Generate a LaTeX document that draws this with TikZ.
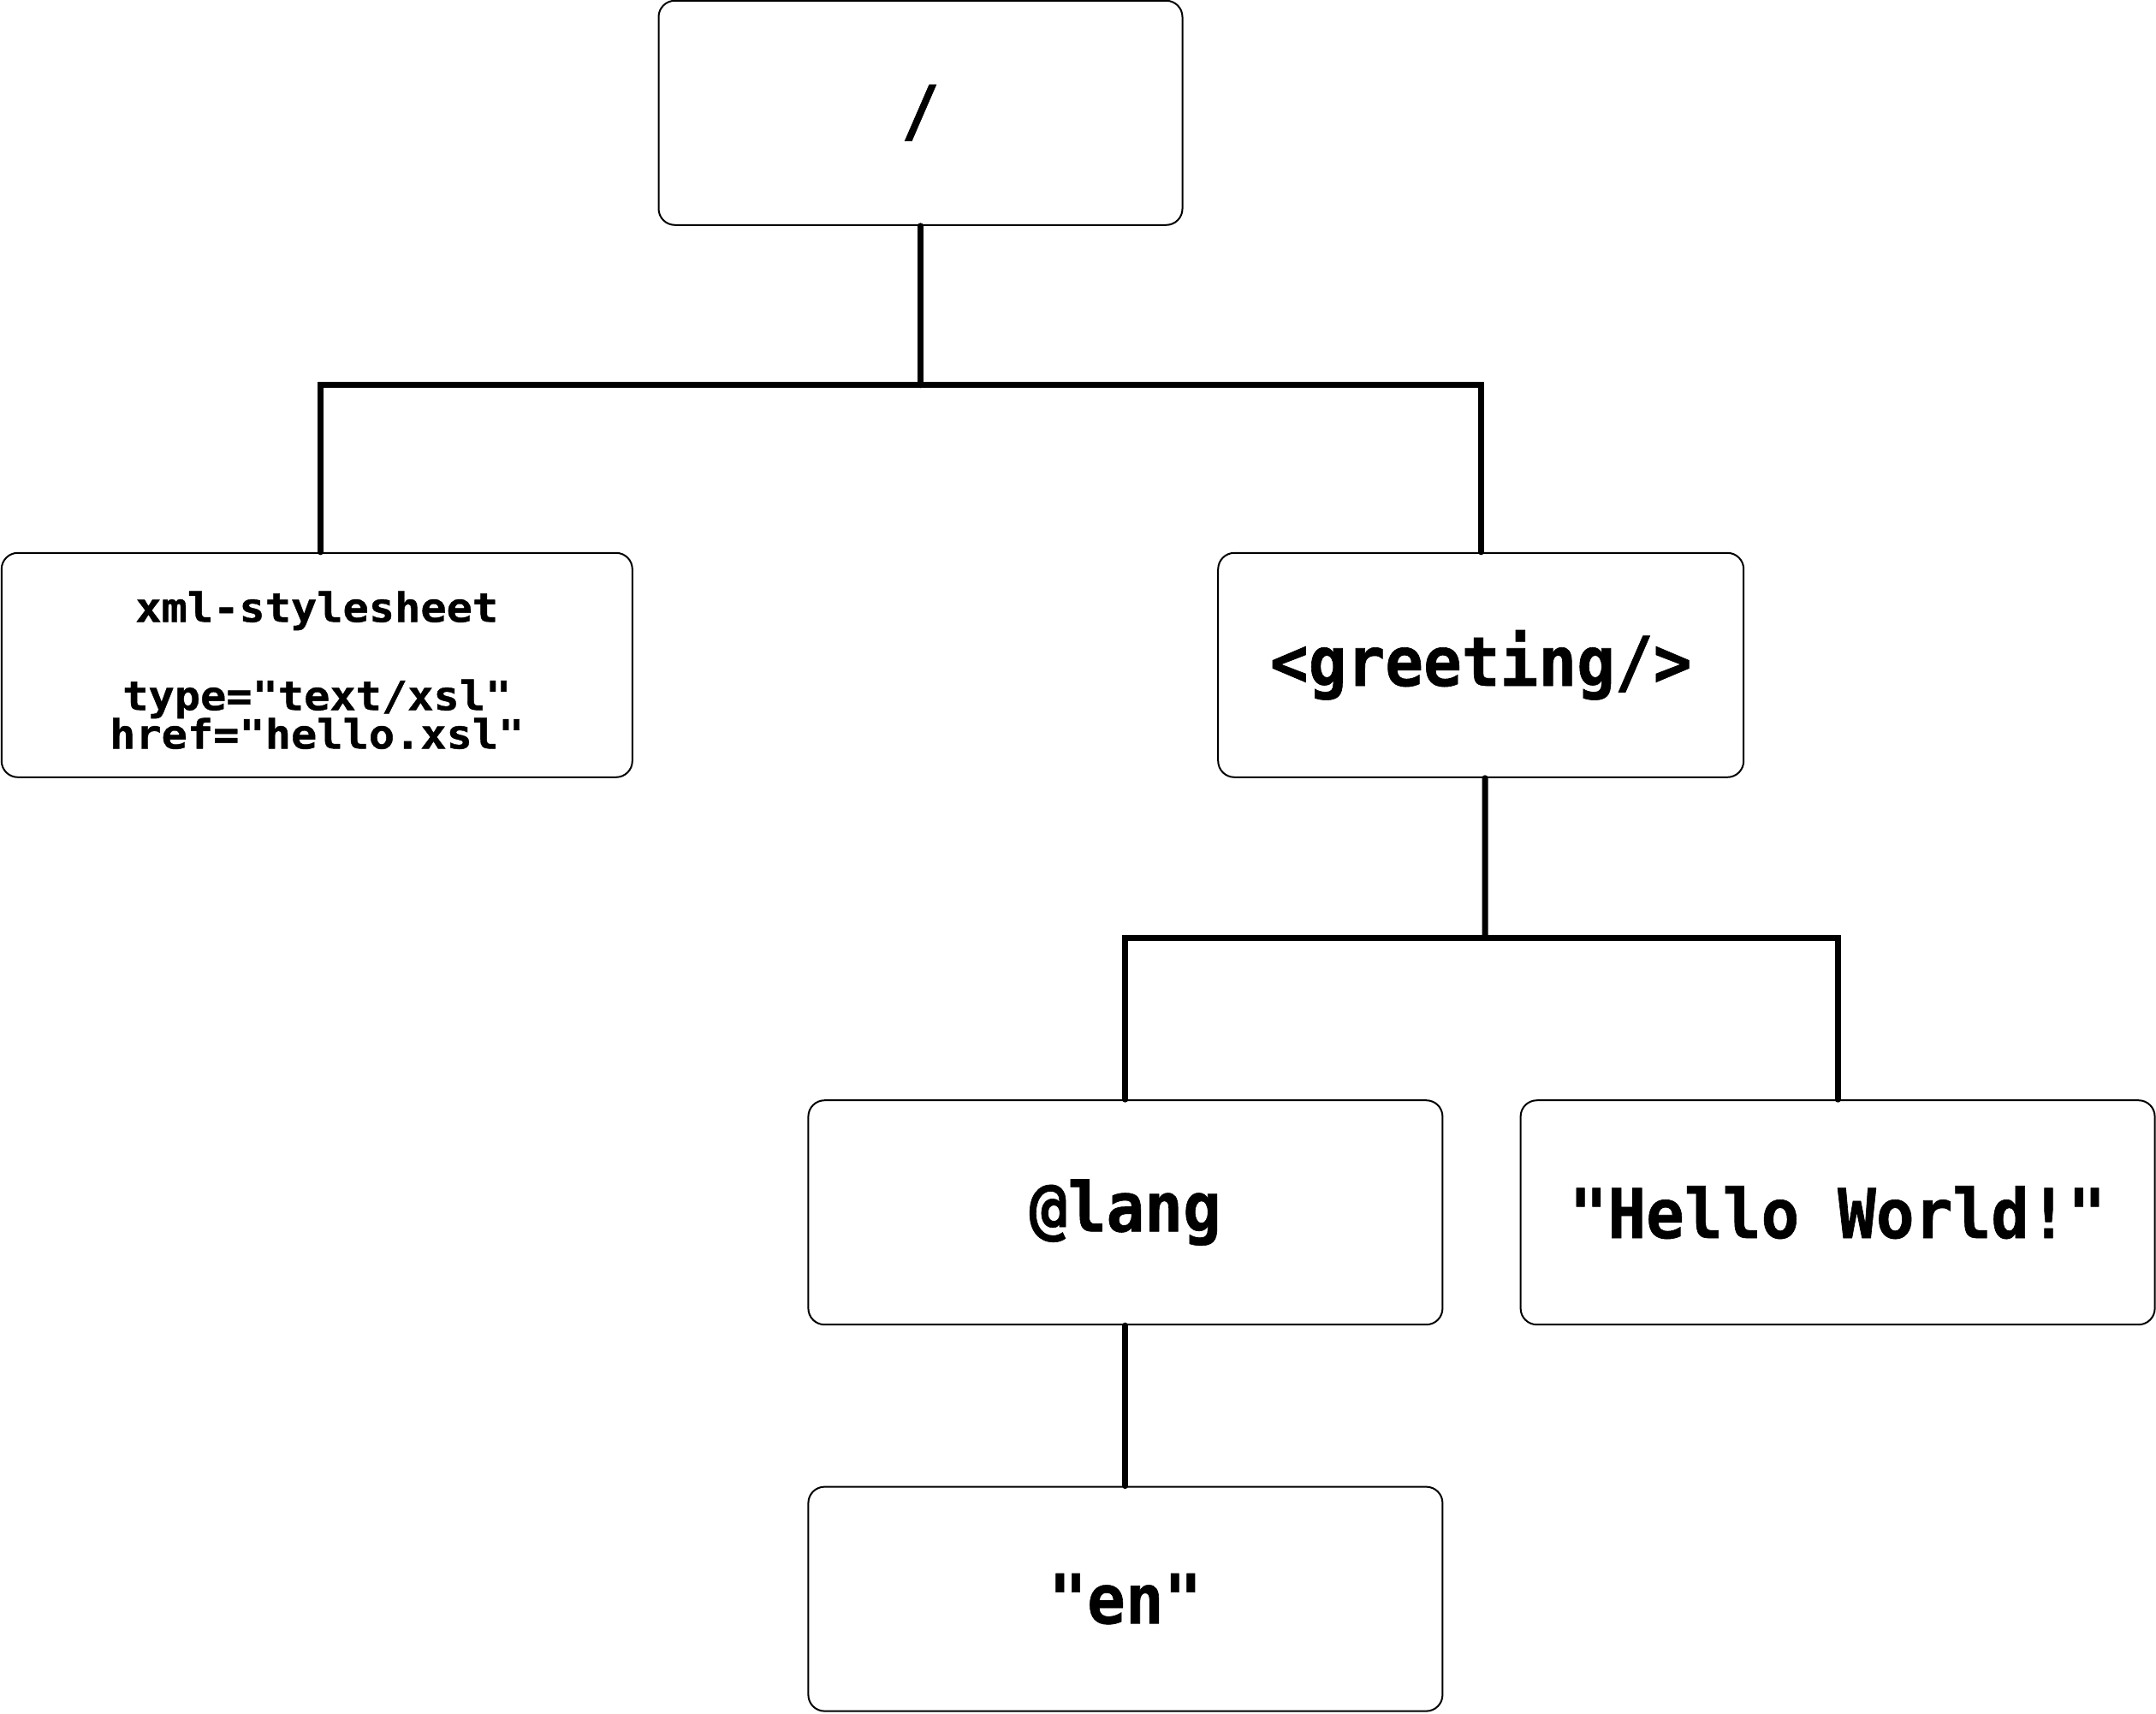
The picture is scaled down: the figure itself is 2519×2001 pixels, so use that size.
\documentclass[tikz,border=0pt]{standalone}
\usepackage{fontspec}
\newfontfamily\monofam[FakeStretch=0.93,FakeBold=0.8]{DejaVu Sans Mono}
\newfontfamily\monosmall[FakeStretch=1.07,FakeBold=0.8]{DejaVu Sans Mono}
\newcommand\mytightlines{\lineskiplimit=-50pt\relax}
\begin{document}
\begin{tikzpicture}[x=0.5pt,y=-0.5pt,
  box/.style={draw=black, line width=1pt, rounded corners=9.5pt, fill=white, inner sep=0pt, minimum height=131pt},
  big/.style={font={\monofam\bfseries\fontsize{40}{48}\selectfont}},
  small/.style={font={\monosmall\bfseries\fontsize{23.5}{22.5}\selectfont\mytightlines}},
  link/.style={line width=3.5pt, line cap=round}]
\useasboundingbox (0,0) rectangle (2519,2001);
\node[box, minimum width=306pt, big] (root) at (1075.5,131.8) {/};
\node[box, minimum width=368.5pt] (xml) at (370.3,776.8) {};
\node[small, align=center, inner sep=0pt] (xmltext) at ([yshift=-3pt]xml.center) {xml-stylesheet\\[29pt]type="text/xsl"\\href="hello.xsl"};
\node[box, minimum width=307pt, big] (greeting) at (1730.2,776.8) {\raisebox{-2pt}{<greeting/>}};
\node[box, minimum width=370.5pt, big] (lang) at (1314.9,1416.2) {@lang};
\node[box, minimum width=370.5pt, big] (hello) at (2147.1,1416.2) {"Hello World!"};
\node[box, minimum width=370.5pt, big] (en) at (1314.9,1867.6) {"en"};
\coordinate (j1) at (1075.5,449.8);
\coordinate (j2) at (1735,1095.6);
\draw[link] (root.south) -- (j1);
\draw[link] ([xshift=2pt]xml.north) |- (j1) -| (greeting.north);
\draw[link] ([xshift=2.4pt]greeting.south) -- (j2);
\draw[link] (lang.north) |- (j2) -| (hello.north);
\draw[link] (lang.south) -- (en.north);
\end{tikzpicture}
\end{document}
